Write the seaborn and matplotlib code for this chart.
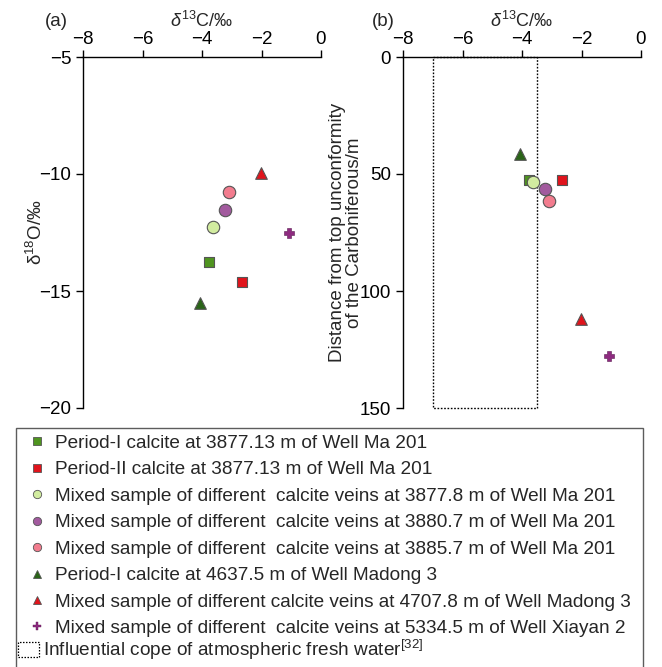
import matplotlib
matplotlib.use("Agg")
import matplotlib.pyplot as plt
import seaborn as sns
import pandas as pd
from matplotlib.lines import Line2D
from matplotlib.patches import Rectangle

sns.set_style("ticks")
plt.rcParams['font.family'] = ['Liberation Sans', 'DejaVu Sans']
plt.rcParams['mathtext.fontset'] = 'custom'
plt.rcParams['mathtext.rm'] = 'Liberation Sans'
plt.rcParams['mathtext.it'] = 'Liberation Sans:italic'

labels = [
    "Period-I calcite at 3877.13 m of Well Ma 201",
    "Period-II calcite at 3877.13 m of Well Ma 201",
    "Mixed sample of different  calcite veins at 3877.8 m of Well Ma 201",
    "Mixed sample of different  calcite veins at 3880.7 m of Well Ma 201",
    "Mixed sample of different  calcite veins at 3885.7 m of Well Ma 201",
    "Period-I calcite at 4637.5 m of Well Madong 3",
    "Mixed sample of different calcite veins at 4707.8 m of Well Madong 3",
    "Mixed sample of different  calcite veins at 5334.5 m of Well Xiayan 2",
]
d13C = [-3.75, -2.67, -3.62, -3.23, -3.1, -4.08, -2.03, -1.06]
d18O = [-13.77, -14.6, -12.26, -11.55, -10.76, -15.5, -9.95, -12.53]
distance = [52.7, 52.7, 53.6, 56.4, 61.4, 41.5, 112.0, 127.8]
colors = ["#4f9420", "#e0141c", "#d2eca0", "#a25a9e", "#f27c8e", "#2a6418", "#e0141c", "#8e2a80"]
markers = ["s", "s", "o", "o", "o", "^", "^", "P"]
sizes = [60, 60, 80, 80, 80, 70, 70, 60]
fresh_c = [-7.0, -3.5]
fresh_d = [0, 150]
box_label = "Influential cope of atmospheric fresh water$^{[32]}$"

df = pd.DataFrame({"label": labels, "d13C": d13C, "d18O": d18O, "dist": distance})

fig = plt.figure(figsize=(6.62, 6.67), dpi=100)
axA = fig.add_axes([83/662, 1-408/667, 238/662, 351/667])
axB = fig.add_axes([403/662, 1-408/667, 238/662, 351/667])

pal = dict(zip(labels, colors))
mk = dict(zip(labels, markers))

for ax, ycol in [(axA, "d18O"), (axB, "dist")]:
    for lab, s in zip(labels, sizes):
        sub = df[df["label"] == lab]
        edge = "#5a1a50" if mk[lab] == "P" else "#555555"
        lw = 0.4 if mk[lab] == "P" else 0.8
        sns.scatterplot(data=sub, x="d13C", y=ycol, marker=mk[lab], color=pal[lab],
                        s=s, edgecolor=edge, linewidth=lw, ax=ax, legend=False, zorder=3)

# panel b dotted box
axB.add_patch(Rectangle((fresh_c[0], fresh_d[0]), fresh_c[1]-fresh_c[0], fresh_d[1]-fresh_d[0],
                        fill=False, ls=(0, (1.2, 1.2)), lw=1.0, ec="black", zorder=2,
                        clip_on=False))

for ax in (axA, axB):
    ax.set_xlim(-8, 0)
    ax.set_xticks([-8, -6, -4, -2, 0])
    ax.set_xticklabels(["\u22128", "\u22126", "\u22124", "\u22122", "0"])
    ax.xaxis.tick_top()
    ax.xaxis.set_label_position("top")
    ax.set_xlabel("$\\mathit{\\delta}^{13}$C/\u2030", fontsize=13, labelpad=3)
    for sp in ["right", "bottom"]:
        ax.spines[sp].set_visible(False)
    for sp in ["left", "top"]:
        ax.spines[sp].set_linewidth(1.0)
        ax.spines[sp].set_color("black")
        ax.spines[sp].set_zorder(4)
    ax.tick_params(axis="both", direction="out", length=5, width=1.0, labelsize=13.5, colors="black")
    ax.tick_params(axis="x", pad=1.5)

axA.set_ylim(-20, -5)
axA.set_yticks([-20, -15, -10, -5])
axA.set_yticklabels(["\u221220", "\u221215", "\u221210", "\u22125"])
axA.set_ylabel("\u03b4$^{18}$O/\u2030", fontsize=13.5, labelpad=-5)

axB.set_ylim(150, 0)
axB.set_yticks([0, 50, 100, 150])
axB.set_ylabel("Distance from top unconformity\nof the Carboniferous/m", fontsize=13.5, labelpad=-2,
               linespacing=1.0)

fig.text(45/662, 1-21/667, "(a)", fontsize=13.5, ha="left", va="center")
fig.text(372/662, 1-21/667, "(b)", fontsize=13.5, ha="left", va="center")

handles = []
for lab, c, m in zip(labels, colors, markers):
    handles.append(Line2D([], [], ls="none", marker=m, color=c, markersize=6,
                          markeredgecolor=("#5a1a50" if m == "P" else "#555555"),
                          markeredgewidth=(0.3 if m == "P" else 0.6)))
# empty row keeps the frame running past the last entry
handles.append(Line2D([], [], ls="none"))
leg = fig.legend(handles, labels + [" "], loc="upper left",
                 bbox_to_anchor=(16/662, 0, 627/662, 1-428/667), mode="expand",
                 fontsize=13.7, frameon=True, fancybox=False, edgecolor="#333333",
                 handlelength=1.5, handletextpad=0.2, labelspacing=0.48, borderpad=0.35,
                 borderaxespad=0)
leg.get_frame().set_linewidth(1.0)

box_handle = Rectangle((0, 0), 1, 1, fill=False, ls=(0, (1.2, 1.2)), lw=0.9, ec="black")
leg2 = fig.legend([box_handle], [box_label], loc="center left",
                  bbox_to_anchor=(18/662, 1-650/667), fontsize=13.7, frameon=False,
                  handlelength=1.1, handleheight=0.9, handletextpad=0.2, borderpad=0,
                  borderaxespad=0)

fig.savefig("out.png", dpi=100)
